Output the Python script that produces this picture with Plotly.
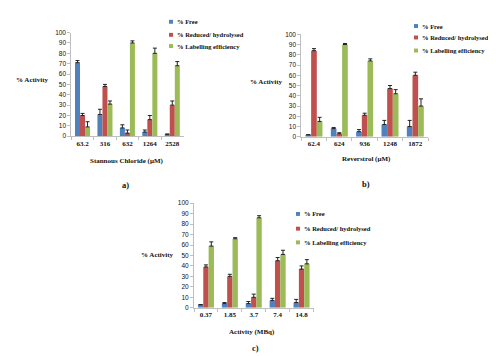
import plotly.graph_objects as go

W, H = 496, 356

# ---------------- data ----------------
cats_a = ["63.2", "316", "632", "1264", "2528"]
free_a = [71, 21, 8, 4, 2]
free_a_err = [2, 5, 3, 2, 0]
red_a = [20, 48, 3, 16, 30]
red_a_err = [2, 2, 3, 4, 4]
lab_a = [9, 31, 90, 80, 68]
lab_a_err = [5, 3, 2, 5, 4]

cats_b = ["62.4", "624", "936", "1248", "1872"]
free_b = [2, 8, 5, 12, 10]
free_b_err = [0, 1, 2, 4, 6]
red_b = [84, 3, 21, 47, 60]
red_b_err = [2, 1, 2, 3, 3]
lab_b = [15, 90, 74, 42, 30]
lab_b_err = [4, 1, 2, 4, 7]

cats_c = ["0.37", "1.85", "3.7", "7.4", "14.8"]
free_c = [3, 4, 4, 7, 5]
free_c_err = [0, 1, 2, 2, 3]
red_c = [39, 30, 10, 45, 37]
red_c_err = [2, 2, 3, 3, 3]
lab_c = [59, 66, 86, 51, 42]
lab_c_err = [4, 1, 2, 4, 4]

series_names = ["% Free", "% Reduced/ hydrolysed", "% Labelling efficiency"]
colors = ["#4F81BD", "#C0504D", "#9BBB59"]
y_ticks = [0, 10, 20, 30, 40, 50, 60, 70, 80, 90, 100]

panels = [
    dict(cats=cats_a, vals=[free_a, red_a, lab_a], errs=[free_a_err, red_a_err, lab_a_err],
         xa="x", ya="y"),
    dict(cats=cats_b, vals=[free_b, red_b, lab_b], errs=[free_b_err, red_b_err, lab_b_err],
         xa="x2", ya="y2"),
    dict(cats=cats_c, vals=[free_c, red_c, lab_c], errs=[free_c_err, red_c_err, lab_c_err],
         xa="x3", ya="y3"),
]

SERIF = "Liberation Serif"
SANS = "Liberation Sans"

fig = go.Figure()
for p in panels:
    for name, col, v, e in zip(series_names, colors, p["vals"], p["errs"]):
        fig.add_trace(go.Bar(
            x=p["cats"], y=v, name=name, marker=dict(color=col, line=dict(width=0)),
            error_y=dict(type="data", symmetric=False, array=e, arrayminus=[0] * len(e),
                         color="#222222", thickness=1, width=2),
            xaxis=p["xa"], yaxis=p["ya"], showlegend=False,
        ))


def px2x(px):
    return px / W


def py2y(py):
    return 1 - py / H


def xaxis_cfg(d0, d1, anchor):
    return dict(domain=[px2x(d0), px2x(d1)], anchor=anchor, type="category",
                showline=True, linecolor="#BFBFBF", linewidth=1,
                ticks="outside", ticklen=3, tickcolor="#BFBFBF", tickson="boundaries",
                tickangle=0,
                tickfont=dict(family=SERIF, size=7, color="#111", weight="bold"),
                showgrid=False, zeroline=False, fixedrange=True)


def yaxis_cfg(top, bottom, anchor):
    return dict(domain=[py2y(bottom), py2y(top)], anchor=anchor, range=[0, 100],
                tickmode="array", tickvals=y_ticks,
                showline=True, linecolor="#BFBFBF", linewidth=1,
                ticks="outside", ticklen=3, tickcolor="#BFBFBF",
                tickfont=dict(family=SANS, size=6.5, color="#111"),
                showgrid=False, zeroline=False, fixedrange=True)


ann = []
shapes = []


def text(x, y, s, size=7, xanchor="center"):
    ann.append(dict(x=px2x(x), y=py2y(y), xref="paper", yref="paper", text=s,
                    showarrow=False, xanchor=xanchor, yanchor="middle",
                    font=dict(family=SERIF, size=size, color="#111", weight="bold")))


def legend(mx, ys, tx):
    for name, col, y in zip(series_names, colors, ys):
        shapes.append(dict(type="rect", xref="paper", yref="paper",
                           x0=px2x(mx - 2), x1=px2x(mx + 2), y0=py2y(y + 2), y1=py2y(y - 2),
                           fillcolor=col, line=dict(width=0)))
        text(tx, y, name, size=6.5, xanchor="left")


# panel a
text(24, 69, "% Activity")
text(119, 152, "Stannous Chloride (µM)")
text(117, 176, "a)", size=8.5)
legend(163, [10, 23.3, 34.7], 167)
# panel b
text(258, 71, "% Activity")
text(358, 150, "Reverstrol (µM)")
text(358, 175, "b)", size=8.5)
legend(408, [14.3, 26, 39.3], 412)
# panel c
text(149, 248, "% Activity")
text(244, 326, "Activity (MBq)")
text(247, 343, "c)", size=8.5)
legend(290, [206, 221, 235], 294)

fig.update_layout(
    width=W, height=H, margin=dict(l=0, r=0, t=0, b=0),
    paper_bgcolor="white", plot_bgcolor="white",
    barmode="group", bargap=0.33, bargroupgap=0,
    showlegend=False,
    xaxis=xaxis_cfg(63.3, 175.5, "y"),
    yaxis=yaxis_cfg(21, 126.7, "x"),
    xaxis2=xaxis_cfg(293.3, 420, "y2"),
    yaxis2=yaxis_cfg(22.7, 127.3, "x2"),
    xaxis3=xaxis_cfg(186, 305.5, "y3"),
    yaxis3=yaxis_cfg(195, 301.7, "x3"),
    annotations=ann, shapes=shapes,
)

fig.write_html("out.html", config={"displayModeBar": False})
